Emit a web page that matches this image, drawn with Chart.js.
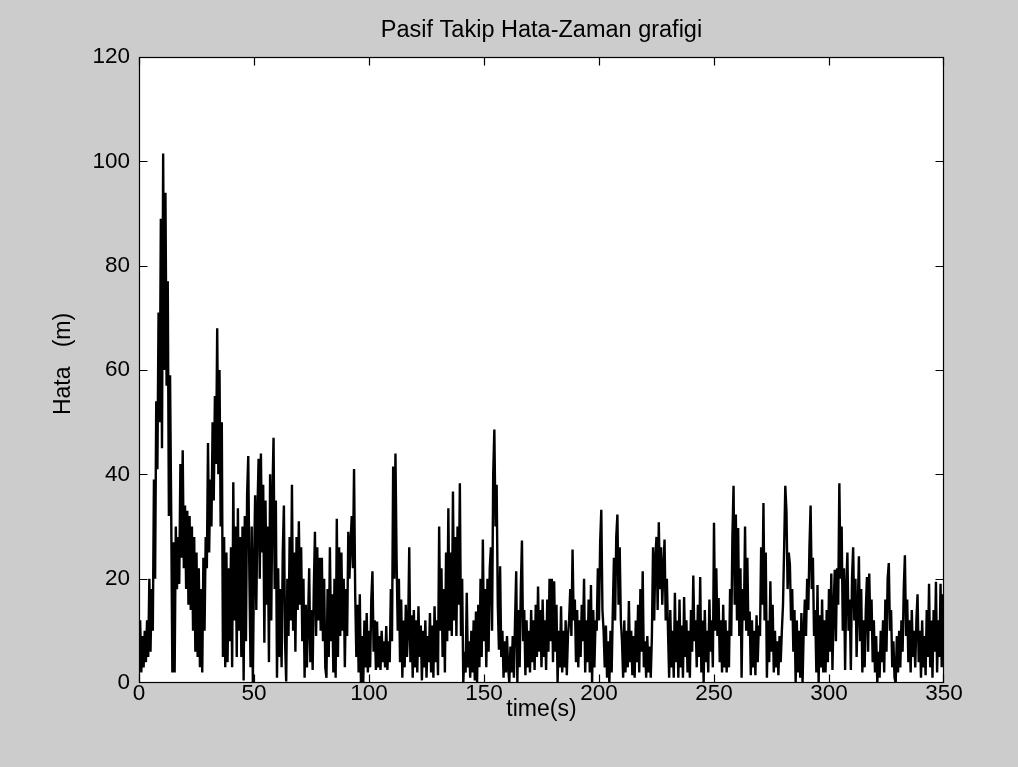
<!DOCTYPE html>
<html>
<head>
<meta charset="utf-8">
<title>Pasif Takip Hata-Zaman grafigi</title>
<script src="https://cdn.jsdelivr.net/npm/chart.js@4.4.1/dist/chart.umd.min.js"></script>
<style>
  html, body { margin: 0; padding: 0; background: #cccccc; }
  #wrap { width: 1018px; height: 767px; }
</style>
</head>
<body>
<div id="wrap"><canvas id="hataChart" width="1018" height="767"></canvas></div>
<script>
// --- error samples, one every half second, split in 50 s blocks ---
const sampleStep = 0.5;

const hata000 = [
  6, 12, 2, 9, 3, 10, 4, 12, 5, 20,
  6, 18, 10, 39, 20, 54, 41, 71, 50, 89,
  45, 101.5, 60, 94, 57, 77, 32, 59, 33, 2,
  27, 2, 30, 18, 28, 19, 42, 24, 44.6, 22,
  34, 18, 33, 15, 32, 14, 30, 10, 28, 6,
  25, 5, 22, 3, 18, 2, 24, 10, 28, 22,
  46, 25, 39, 30, 50, 35, 55, 42, 68, 40,
  60, 30, 50, 5, 28, 3, 25, 4, 22, 8,
  26, 3, 38.5, 12, 30, 5, 33.5, 10, 28, 5,
  30, 0.5, 32, 8, 36, 43.5, 20, 3, 30, 0
];
const hata050 = [
  22, 36, 14, 33, 43, 20, 44, 25, 38, 7.7,
  35, 15, 30, 4, 40, 12, 36, 47, 18, 35,
  1, 22, 5, 18, 3, 25, 34, 8, 0.3, 20,
  9, 28, 12, 38, 10, 25, 6, 28, 14, 31,
  15, 26, 8, 20, 1, 15, 3, 12, 22, 4,
  14, 2.5, 18, 29, 9, 26, 12, 24, 10, 24,
  8, 20, 3, 1, 18, 5, 26, 8, 17, 2,
  20, 1, 31.5, 5, 26, 9, 25, 10, 20, 3,
  18, 9, 29, 20, 27, 32, 22, 41, 17, 5,
  15, 2, 17, 0, 9, 0, 12, 3, 13.4, 2
];
const hata100 = [
  10, 3, 16, 21.4, 6, 12, 2.5, 11.8, 3, 9,
  2.5, 10, 4, 8, 3, 10.9, 2.5, 8, 4, 18,
  8, 41.5, 20, 44, 23.6, 10, 20, 4, 16, 1,
  12, 3, 15, 5, 10, 26, 4, 13, 1, 14,
  3, 12, 2, 14.7, 5, 11, 0.5, 10, 3, 12,
  1, 9, 4, 13.4, 2, 11, 1, 14.7, 4, 12,
  1.5, 30, 10, 22, 5, 18, 2, 25, 8, 33.5,
  10, 25, 9, 36.7, 12, 28, 9, 30, 15, 38.3,
  9, 20, 0, 6, 2, 17.3, 3, 8, 1, 10,
  2, 12, 0.5, 13.7, 0, 15, 3, 20, 5, 27.5
];
const hata150 = [
  8, 18, 3, 20, 6, 22, 26, 10, 40, 48.6,
  30, 38, 15, 6.4, 22.4, 5, 10, 1, 8, 2,
  9, 3, 0, 7, 2, 9, 1, 12, 21.4, 0,
  14, 3, 18, 27.3, 8, 14, 1.5, 12, 3, 10,
  2, 14, 4, 12, 2.5, 15, 5, 18.5, 6, 14,
  3, 16, 5, 12, 2.5, 16, 6, 20, 8, 20,
  4, 19.5, 6, 15, 0, 10, 3, 14.7, 2, 10,
  3, 12, 1.5, 9, 12, 18, 9, 25.6, 12, 16,
  4, 14, 3, 12, 5, 15, 8, 20, 2, 12,
  4, 16, 2, 18.8, 0, 14, 3, 12, 10, 22
];
const hata200 = [
  12, 27, 33.2, 14, 10, 3, 11, 1, 8, 0,
  10, 2, 14, 24, 12, 28, 32.3, 15, 26, 12,
  8, 1, 12, 2, 10, 3, 15.7, 4, 10, 1.5,
  9, 1, 12, 4, 15, 2, 18, 6, 21.4, 3,
  8, 1, 9, 2, 7, 1, 9, 26, 12, 24,
  28, 14, 30.8, 18, 26, 15, 22, 27.5, 12, 20,
  10, 1, 14, 3, 10, 1, 17.3, 4, 12, 1,
  16, 3, 11, 1, 16.5, 5, 12, 2, 10, 1,
  14, 6, 20.6, 8, 12, 3, 15, 5, 20.3, 2,
  12, 0, 14, 4, 10, 2, 16, 6, 12, 3
];
const hata250 = [
  30.7, 10, 22, 9, 16.3, 4, 12, 2, 15, 3,
  12, 2, 10, 3, 18, 9, 28, 37.8, 15, 32.3,
  12, 29.7, 9, 22, 1, 18, 12, 30, 10, 24,
  9, 13.7, 1.5, 12, 3, 10, 1.5, 13, 4, 11,
  9, 26, 15, 34.5, 12, 25, 1, 12, 4, 19.5,
  6, 15, 2, 10, 3, 8, 1.5, 9, 4, 10,
  15, 26, 37.8, 33, 18, 25, 22.7, 12, 18, 6,
  14, 0, 12, 2, 10, 1, 13.4, 0, 10, 16,
  9, 20, 14, 26, 34, 18, 24, 9, 14, 2,
  18.8, 0, 13, 3, 16, 2, 12, 2, 14, 4
];
const hata300 = [
  18, 6, 21, 2.5, 14, 21.7, 8, 22, 15, 38.3,
  20, 30, 10, 22, 2.5, 18, 25, 10, 16, 2.5,
  20, 26, 12, 20, 5, 14, 24.3, 8, 18, 2,
  12, 3, 14, 20.3, 6, 21, 10, 16, 4, 12,
  2, 9, 0, 6, 1, 10, 4, 12, 2, 16,
  6, 20, 23, 10, 14, 3, 8, 1, 0, 9,
  2, 10, 3, 12, 6, 18, 24.5, 9, 16, 4,
  12, 2, 14, 5, 10, 3, 12, 17, 4, 10,
  1, 12, 3, 9, 1.5, 14, 5, 19, 3, 12,
  1, 14, 6, 19.4, 2, 12, 5, 19, 3, 17,
  8
];

const xTicks = [0, 50, 100, 150, 200, 250, 300, 350];
const yTicks = [0, 20, 40, 60, 80, 100, 120];

const hata = [].concat(hata000, hata050, hata100, hata150, hata200, hata250, hata300);
const points = hata.map((v, i) => ({ x: i * sampleStep, y: v }));

const FONT = '"Liberation Sans", Arial, Helvetica, sans-serif';

// gray figure, white axes, box with inward ticks, title and axis labels
const matlabFrame = {
  id: 'matlabFrame',
  beforeDraw(chart) {
    const { ctx, chartArea: a } = chart;
    ctx.save();
    ctx.fillStyle = '#cccccc';
    ctx.fillRect(0, 0, chart.width, chart.height);
    ctx.fillStyle = '#ffffff';
    ctx.fillRect(a.left, a.top, a.right - a.left, a.bottom - a.top);
    ctx.restore();
  },
  afterDraw(chart) {
    const { ctx, chartArea: a, scales } = chart;
    const tick = 8;
    const l = a.left + 0.5, r = a.right - 0.5, t = a.top + 0.5, b = a.bottom - 0.5;
    ctx.save();
    ctx.strokeStyle = '#000';
    ctx.lineWidth = 1.2;
    ctx.strokeRect(l, t, r - l, b - t);
    ctx.beginPath();
    xTicks.forEach(v => {
      const px = Math.min(r, Math.max(l, Math.round(scales.x.getPixelForValue(v)) + 0.5));
      ctx.moveTo(px, b); ctx.lineTo(px, b - tick);
      ctx.moveTo(px, t); ctx.lineTo(px, t + tick);
    });
    yTicks.forEach(v => {
      const py = Math.min(b, Math.max(t, Math.round(scales.y.getPixelForValue(v)) + 0.5));
      ctx.moveTo(l, py); ctx.lineTo(l + tick, py);
      ctx.moveTo(r, py); ctx.lineTo(r - tick, py);
    });
    ctx.stroke();

    ctx.fillStyle = '#000';
    ctx.textAlign = 'center';
    ctx.textBaseline = 'middle';
    ctx.font = '23.5px ' + FONT;
    ctx.fillText('Pasif Takip Hata-Zaman grafigi', (a.left + a.right) / 2, 31);
    ctx.font = '23px ' + FONT;
    ctx.fillText('time(s)', (a.left + a.right) / 2, 710);
    ctx.translate(64, 364);
    ctx.rotate(-Math.PI / 2);
    ctx.fillText('Hata   (m)', 0, 0);
    ctx.restore();
  }
};

new Chart(document.getElementById('hataChart'), {
  type: 'line',
  data: {
    datasets: [{
      data: points,
      borderColor: '#000000',
      borderWidth: 2.4,
      pointRadius: 0,
      tension: 0,
      fill: false
    }]
  },
  options: {
    responsive: false,
    animation: false,
    events: [],
    layout: { padding: { top: 57, right: 74, left: 0, bottom: 0 } },
    plugins: {
      legend: { display: false },
      tooltip: { enabled: false },
      title: { display: false }
    },
    scales: {
      x: {
        type: 'linear',
        min: 0,
        max: 350,
        afterBuildTicks: s => { s.ticks = xTicks.map(v => ({ value: v })); },
        afterFit: s => { s.height = 84; },
        grid: { display: false, drawTicks: false },
        border: { display: false },
        ticks: { color: '#000', padding: -3, maxRotation: 0, font: { family: FONT, size: 22.5 } }
      },
      y: {
        min: 0,
        max: 120,
        afterBuildTicks: s => { s.ticks = yTicks.map(v => ({ value: v })); },
        afterFit: s => { s.width = 139; },
        grid: { display: false, drawTicks: false },
        border: { display: false },
        ticks: { color: '#000', padding: 9, font: { family: FONT, size: 22.5 } }
      }
    }
  },
  plugins: [matlabFrame]
});
</script>
</body>
</html>
